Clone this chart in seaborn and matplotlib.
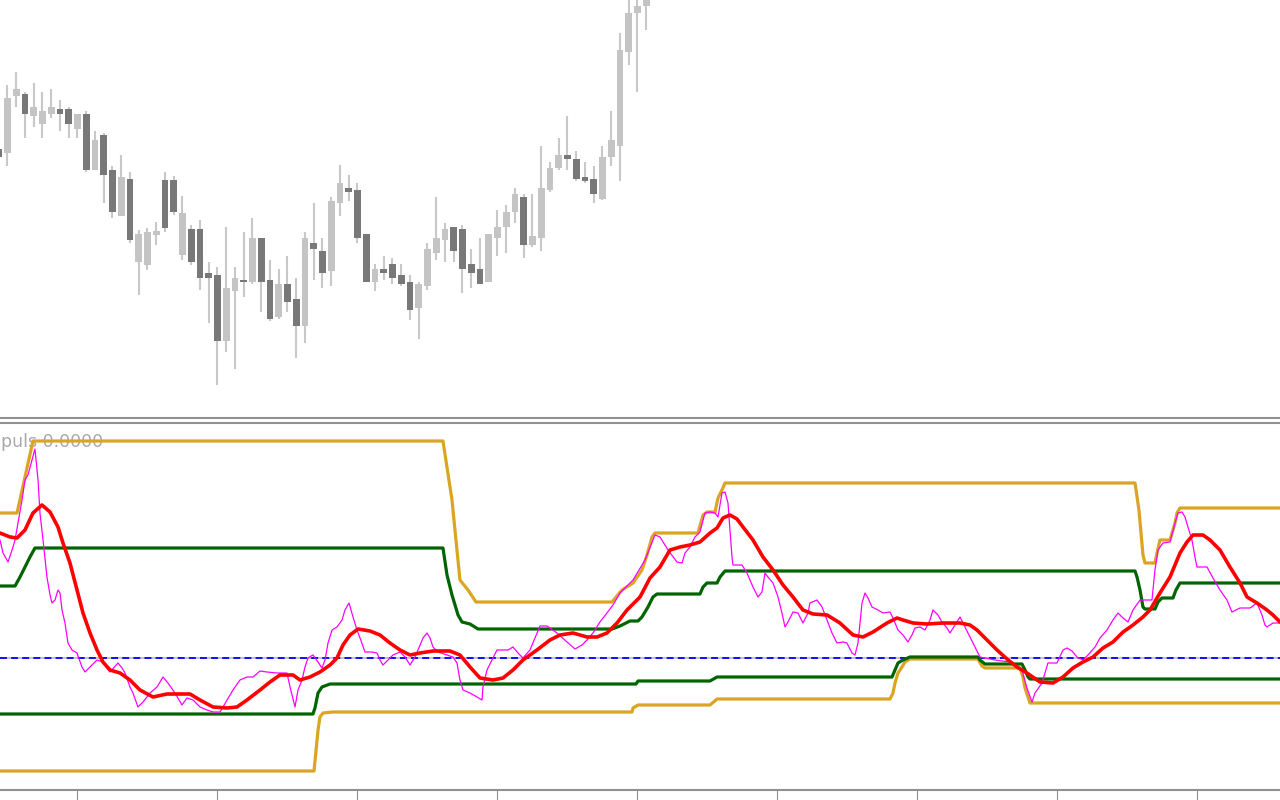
import numpy as np
import matplotlib
matplotlib.use('Agg')
import matplotlib.pyplot as plt
import seaborn as sns

# price rows of each bar (the price scale runs top-down)
opens = [149, 153, 96, 94, 116, 124, 114, 109, 109, 129, 114, 170, 135, 170, 216,
         179, 262, 265, 235, 180, 180, 255, 229, 229, 273, 275, 341, 291, 280, 282,
         238, 280, 317, 284, 299, 326, 243, 251, 271, 203, 188, 190, 234, 282, 269,
         264, 275, 282, 308, 286, 253, 240, 227, 229, 264, 269, 282, 238, 227, 212,
         197, 245, 238, 190, 168, 155, 159, 177, 179, 199, 157, 146, 52, 13, 6]
highs = [140, 85, 72, 92, 83, 92, 89, 100, 107, 114, 111, 131, 133, 166, 155,
         172, 230, 228, 222, 172, 176, 196, 225, 220, 262, 267, 227, 267, 232, 218,
         238, 260, 269, 256, 278, 232, 203, 238, 197, 165, 175, 183, 234, 264, 256,
         258, 264, 275, 282, 243, 197, 223, 227, 225, 249, 238, 234, 210, 205, 188,
         194, 194, 146, 162, 138, 116, 151, 162, 166, 146, 111, 33, -10, -5, -15]
lows = [165, 166, 107, 138, 127, 138, 118, 131, 138, 138, 172, 170, 203, 218, 216,
        243, 295, 270, 245, 232, 215, 260, 265, 290, 323, 385, 352, 369, 297, 284,
        312, 321, 319, 312, 358, 343, 280, 288, 286, 216, 201, 243, 282, 291, 280,
        284, 286, 320, 339, 290, 260, 262, 262, 293, 288, 284, 282, 256, 253, 223,
        258, 247, 251, 192, 170, 170, 181, 183, 203, 200, 166, 181, 65, 92, 30]
closes = [157, 98, 89, 114, 107, 111, 107, 114, 124, 114, 170, 140, 175, 212, 177,
          240, 234, 232, 231, 228, 212, 213, 262, 278, 278, 341, 288, 278, 282, 238,
          282, 319, 284, 302, 326, 238, 249, 273, 201, 183, 192, 238, 282, 269, 273,
          278, 284, 310, 284, 249, 238, 229, 251, 269, 273, 284, 234, 227, 212, 194,
          245, 236, 188, 168, 155, 159, 179, 181, 194, 157, 140, 50, 13, 6, -5]

# indicator window: (bar, level row) vertices
upper_orange = [(0.14, 513), (2.09, 513), (3.91, 441), (50.77, 441), (51.8, 500), (52.71, 580),
                (53.63, 590), (54.54, 602), (70.09, 602), (71.23, 590), (72.49, 583), (73.51, 570),
                (74.09, 555), (74.66, 537), (75.0, 533), (79.91, 533), (80.49, 515), (80.94, 512),
                (81.86, 512), (82.2, 498), (82.66, 490), (83.0, 483), (129.86, 483), (130.31, 510),
                (130.77, 555), (131.0, 563), (132.14, 563), (132.37, 553), (132.71, 540),
                (133.86, 540), (134.43, 523), (134.66, 513), (135.0, 508), (146.43, 508)]
upper_green = [(0.14, 586), (1.86, 586), (2.43, 577), (3.0, 567), (3.57, 557), (4.14, 548),
               (50.77, 548), (51.23, 575), (51.8, 595), (52.49, 615), (52.94, 622), (53.86, 624),
               (54.77, 629), (70.09, 629), (71.0, 626), (72.14, 621), (73.06, 621), (73.51, 617),
               (74.2, 607), (74.77, 597), (75.23, 594), (80.14, 594), (80.49, 587), (80.94, 583),
               (82.09, 583), (82.43, 577), (83.0, 571), (129.86, 571), (130.09, 577), (130.43, 590),
               (130.77, 607), (131.0, 609), (132.14, 609), (132.49, 602), (132.94, 598),
               (134.2, 598), (134.54, 590), (135.0, 583), (146.43, 583)]
lower_green = [(0.14, 714), (35.91, 714), (36.14, 708), (36.49, 693), (36.94, 687), (37.86, 684),
               (72.83, 684), (73.06, 681), (81.29, 681), (82.09, 677), (102.09, 677), (102.43, 670),
               (102.77, 663), (103.34, 660), (104.14, 657), (111.91, 657), (112.14, 660),
               (112.71, 664), (116.94, 664), (117.29, 670), (117.63, 677), (117.86, 679), (146.43, 679)]
lower_orange = [(0.14, 771), (36.03, 771), (36.49, 730), (36.71, 717), (37.06, 713), (38.09, 712),
                (72.37, 712), (72.49, 708), (73.06, 705), (81.29, 705), (82.09, 699), (101.86, 699),
                (102.2, 693), (102.43, 683), (102.77, 673), (103.23, 667), (103.57, 662),
                (104.14, 659), (111.91, 659), (112.37, 666), (112.71, 668), (116.71, 668),
                (117.06, 677), (117.29, 688), (117.63, 697), (117.86, 703), (146.43, 703)]
signal = [(0.14, 533), (1.29, 537), (2.09, 538), (3.0, 530), (3.91, 513), (4.94, 505), (5.86, 512),
          (6.77, 527), (7.34, 543), (8.14, 563), (8.94, 590), (9.63, 613), (10.43, 633), (11.23, 650),
          (11.91, 662), (12.71, 670), (13.86, 673), (15.0, 680), (16.14, 690), (17.63, 697),
          (19.23, 694), (21.86, 694), (23.0, 700), (24.49, 707), (26.09, 708), (27.23, 707),
          (28.37, 700), (29.86, 690), (31.0, 682), (32.14, 675), (33.63, 675), (34.43, 680),
          (35.57, 677), (36.71, 672), (37.86, 665), (38.66, 658), (39.34, 645), (40.14, 635),
          (41.06, 629), (42.43, 631), (43.57, 635), (44.71, 643), (45.86, 650), (47.0, 655),
          (48.14, 653), (49.63, 651), (51.57, 651), (52.71, 655), (53.86, 667), (55.0, 678),
          (56.49, 680), (57.63, 678), (58.77, 670), (59.91, 660), (61.51, 650), (63.0, 640),
          (64.14, 635), (65.63, 633), (67.23, 637), (68.37, 637), (69.51, 633), (70.66, 623),
          (71.8, 610), (73.29, 597), (74.43, 578), (75.57, 567), (76.71, 550), (77.86, 547),
          (79.0, 545), (80.14, 542), (81.29, 533), (82.09, 528), (82.77, 518), (83.57, 515),
          (84.37, 519), (85.06, 527), (86.2, 540), (87.34, 557), (88.49, 570), (89.63, 585),
          (90.77, 597), (91.91, 610), (93.06, 614), (94.66, 615), (96.14, 623), (97.63, 635),
          (98.77, 637), (99.91, 632), (101.51, 623), (102.66, 618), (103.34, 620), (104.49, 623),
          (106.09, 624), (107.91, 623), (109.86, 623), (111.0, 625), (111.8, 630), (112.94, 640),
          (114.09, 650), (115.23, 659), (116.37, 667), (117.51, 673), (119.0, 682), (120.49, 683),
          (121.63, 677), (122.77, 668), (123.91, 662), (125.06, 657), (126.2, 648), (127.34, 642),
          (128.49, 632), (129.63, 625), (130.77, 617), (131.57, 610), (132.71, 593), (133.86, 577),
          (135.0, 553), (135.8, 542), (136.49, 535), (137.63, 535), (138.43, 540), (139.57, 550),
          (140.71, 567), (141.86, 583), (142.66, 597), (143.8, 603), (144.94, 610), (145.63, 615),
          (146.43, 622)]
impulse = [(0.14, 540), (0.49, 553), (1.06, 562), (1.63, 547), (1.86, 540), (2.2, 523), (2.66, 500),
           (3.0, 480), (3.34, 475), (4.14, 449), (4.49, 480), (4.71, 513), (5.06, 540), (5.51, 577),
           (5.86, 595), (6.09, 603), (6.43, 600), (6.77, 590), (7.0, 593), (7.23, 610), (7.57, 623),
           (7.91, 643), (8.37, 650), (8.94, 653), (9.51, 667), (9.86, 672), (10.43, 667), (11.23, 660),
           (11.91, 662), (12.71, 672), (13.63, 663), (14.09, 668), (14.43, 673), (15.0, 687),
           (15.34, 693), (15.91, 707), (16.49, 702), (17.29, 693), (18.09, 687), (18.77, 677),
           (19.34, 683), (20.14, 693), (20.94, 705), (21.51, 698), (22.2, 700), (23.0, 707),
           (23.8, 710), (24.49, 712), (25.29, 712), (26.09, 700), (26.77, 690), (27.57, 680),
           (28.37, 677), (29.06, 677), (29.86, 671), (30.66, 672), (31.8, 673), (32.94, 673),
           (33.29, 687), (33.86, 707), (34.2, 690), (34.66, 680), (35.0, 667), (35.34, 658),
           (35.91, 655), (36.49, 662), (36.94, 668), (37.29, 660), (37.63, 643), (38.09, 630),
           (38.66, 627), (39.23, 620), (39.57, 610), (40.03, 603), (40.49, 617), (40.94, 630),
           (41.29, 638), (41.86, 652), (42.66, 652), (43.23, 653), (43.57, 660), (43.91, 665),
           (44.49, 660), (45.06, 655), (45.86, 652), (46.43, 657), (47.0, 665), (47.57, 657),
           (47.91, 650), (48.49, 638), (48.94, 633), (49.29, 638), (49.63, 647), (50.2, 652),
           (51.23, 655), (51.91, 657), (52.37, 663), (52.71, 680), (53.06, 690), (53.86, 693),
           (54.66, 697), (55.23, 700), (55.34, 687), (55.8, 670), (56.37, 660), (56.94, 650),
           (58.2, 650), (58.77, 647), (59.34, 653), (59.91, 658), (60.71, 650), (61.29, 638),
           (61.86, 626), (62.66, 626), (63.8, 633), (64.94, 642), (65.86, 649), (66.66, 645),
           (67.23, 640), (67.91, 633), (68.71, 622), (69.51, 613), (70.2, 605), (71.0, 593),
           (72.49, 580), (73.86, 560), (75.0, 535), (75.57, 537), (76.49, 550), (77.51, 562),
           (78.09, 563), (78.43, 553), (79.0, 547), (79.57, 537), (80.14, 532), (80.71, 513),
           (81.29, 512), (81.86, 513), (82.2, 517), (82.66, 493), (83.0, 492), (83.34, 503),
           (83.8, 557), (83.91, 565), (84.94, 565), (85.51, 573), (86.2, 587), (86.77, 597),
           (87.23, 592), (87.57, 573), (87.91, 577), (88.49, 583), (89.06, 597), (89.51, 613),
           (89.86, 627), (90.2, 622), (90.77, 612), (91.34, 613), (91.91, 623), (92.49, 613),
           (92.71, 603), (93.51, 600), (94.09, 607), (94.66, 620), (95.23, 633), (95.8, 643),
           (96.49, 642), (96.94, 643), (97.51, 653), (97.86, 655), (98.2, 643), (98.66, 603),
           (99.0, 593), (99.34, 598), (99.8, 607), (100.49, 610), (101.06, 613), (101.86, 612),
           (102.2, 618), (102.77, 630), (103.34, 635), (103.91, 642), (104.37, 635), (104.71, 628),
           (105.29, 627), (105.86, 630), (106.43, 620), (106.77, 610), (107.34, 615), (107.8, 622),
           (108.37, 628), (108.71, 633), (109.29, 625), (109.86, 617), (110.43, 627), (111.0, 637),
           (111.57, 647), (112.14, 657), (112.71, 658), (113.86, 660), (115.57, 662), (116.94, 670),
           (117.51, 688), (118.09, 702), (118.43, 693), (119.23, 683), (119.91, 663), (120.94, 663),
           (121.63, 650), (122.09, 648), (122.66, 651), (123.23, 657), (123.91, 660), (124.49, 655),
           (125.29, 647), (125.86, 638), (126.66, 630), (127.34, 620), (127.91, 613), (128.49, 618),
           (129.06, 622), (129.63, 610), (130.43, 600), (131.8, 600), (132.14, 570), (132.49, 550),
           (133.06, 543), (133.86, 542), (134.43, 523), (134.77, 513), (135.23, 512), (135.57, 517),
           (135.91, 527), (136.37, 540), (136.71, 557), (136.94, 567), (138.09, 567), (138.77, 578),
           (139.57, 590), (140.37, 600), (140.94, 612), (141.86, 608), (143.0, 608), (143.8, 603),
           (144.37, 615), (144.71, 625), (144.94, 627), (145.63, 623), (146.43, 623)]
zero_level = 658
tick_bars = list(range(9, 147, 16))
label = 'puls 0.0000'

sns.set_theme(style='white')
plt.rcParams['lines.scale_dashes'] = False

fig = plt.figure(figsize=(12.8, 8), dpi=100)
ax1 = fig.add_axes([0, 1 - 418 / 800, 1, 418 / 800])
ax2 = fig.add_axes([0, 1 - 789.5 / 800, 1, 366.5 / 800])

# candles
bars = np.arange(len(opens))
o = np.array(opens)
c = np.array(closes)
rising = c < o
ax1.vlines(bars, highs, lows, color='#c8c8c8', lw=1.5, zorder=1)
ax1.bar(bars, c - o, bottom=o, width=0.75,
        color=np.where(rising, '#c4c4c4', '#787878'), linewidth=0, zorder=2)
ax1.set_ylim(418, 0)

# indicator
ax2.axhline(zero_level, color='#c0c0c0', lw=1.3, zorder=1)
ax2.axhline(zero_level, color='#0000ff', lw=1.3, linestyle=(0, (5, 3)), zorder=1)
for pts, col, w in [(upper_orange, '#daa520', 2.3), (lower_orange, '#daa520', 2.3),
                    (upper_green, '#006400', 2.3), (lower_green, '#006400', 2.3),
                    (impulse, '#ff00ff', 0.9), (signal, '#ff0000', 2.6)]:
    xs, ys = zip(*pts)
    sns.lineplot(x=list(xs), y=list(ys), ax=ax2, color=col, lw=w,
                 sort=False, estimator=None, legend=False)
ax2.set_ylim(789.5, 423)
ax2.text(1 / 1280, 1 - 442 / 800, label, transform=fig.transFigure,
         fontsize=12.5, color='#a8a8a8', va='center', zorder=0.5, clip_on=False)

for ax in (ax1, ax2):
    ax.set_xlim(0.143, 146.43)
    ax.set_facecolor('white')
    ax.set_ylabel('')
    ax.set_xlabel('')
    ax.set_yticks([])
    for s in ('left', 'right'):
        ax.spines[s].set_visible(False)
ax1.spines['top'].set_visible(False)
ax1.spines['bottom'].set_color('#909090')
ax1.spines['bottom'].set_linewidth(1.5)
ax1.set_xticks([])
ax2.spines['top'].set_color('#909090')
ax2.spines['top'].set_linewidth(1.5)
ax2.spines['bottom'].set_color('#909090')
ax2.spines['bottom'].set_linewidth(1.5)
ax2.set_xticks(tick_bars)
ax2.tick_params(axis='x', length=7.5, width=0.8, color='#909090', direction='out',
                bottom=True, labelbottom=False)

fig.savefig('out.png', dpi=100, facecolor='white')
